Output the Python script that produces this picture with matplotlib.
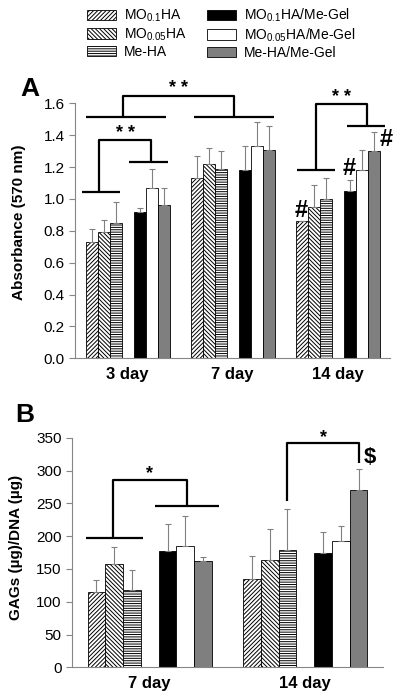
import numpy as np
import matplotlib
matplotlib.use("Agg")
import matplotlib.pyplot as plt
from matplotlib.patches import Patch

plt.rcParams['font.family'] = ['Liberation Sans', 'DejaVu Sans']
plt.rcParams['mathtext.default'] = 'regular'
plt.rcParams['hatch.linewidth'] = 0.7

# series / legend
labels = ['MO$_{0.1}$HA', 'MO$_{0.05}$HA', 'Me-HA',
          'MO$_{0.1}$HA/Me-Gel', 'MO$_{0.05}$HA/Me-Gel', 'Me-HA/Me-Gel']
faces = ['white', 'white', 'white', 'black', 'white', '#7f7f7f']
hatches = ['/' * 8, '\\' * 8, '-' * 7, None, None, None]

# panel A: absorbance (570 nm)
days_a = ['3 day', '7 day', '14 day']
abs_mo01 = [0.73, 1.13, 0.86]
abs_mo005 = [0.79, 1.22, 0.95]
abs_meha = [0.85, 1.19, 1.00]
abs_mo01_gel = [0.92, 1.18, 1.05]
abs_mo005_gel = [1.07, 1.33, 1.18]
abs_meha_gel = [0.96, 1.31, 1.30]
abs_err_mo01 = [0.08, 0.14, 0.0]
abs_err_mo005 = [0.08, 0.10, 0.14]
abs_err_meha = [0.13, 0.11, 0.13]
abs_err_mo01_gel = [0.02, 0.15, 0.07]
abs_err_mo005_gel = [0.12, 0.15, 0.13]
abs_err_meha_gel = [0.11, 0.15, 0.12]

# panel B: GAGs/DNA
days_b = ['7 day', '14 day']
gag_mo01 = [115, 134]
gag_mo005 = [158, 164]
gag_meha = [118, 179]
gag_mo01_gel = [178, 175]
gag_mo005_gel = [185, 193]
gag_meha_gel = [162, 270]
gag_err_mo01 = [18, 35]
gag_err_mo005 = [26, 47]
gag_err_meha = [31, 62]
gag_err_mo01_gel = [41, 31]
gag_err_mo005_gel = [45, 23]
gag_err_meha_gel = [6, 32]

w = 0.8 / 7
offsets = np.array([-3, -2, -1, 1, 2, 3]) * w


def draw_bars(ax, cats, vals, errs):
    x = np.arange(len(cats))
    for i in range(6):
        ax.bar(x + offsets[i], vals[i], w, color=faces[i], hatch=hatches[i],
               edgecolor='black', linewidth=0.6, zorder=2)
        ax.errorbar(x + offsets[i], vals[i], yerr=[np.zeros(len(cats)), errs[i]],
                    fmt='none', ecolor='#808080', elinewidth=0.8, capsize=2,
                    capthick=0.8, zorder=3)
    ax.set_xlim(-0.5, len(cats) - 0.5)
    ax.set_xticks(x)
    ax.set_xticklabels(cats, fontsize=12, fontweight='bold')
    ax.tick_params(axis='x', length=0, pad=6)
    ax.tick_params(axis='y', labelsize=11, color='#868686', length=4)
    for s in ['top', 'right']:
        ax.spines[s].set_visible(False)
    for s in ['left', 'bottom']:
        ax.spines[s].set_color('#868686')


def line(ax, xs, ys):
    ax.plot(xs, ys, color='black', lw=1.6, clip_on=False, zorder=4,
            solid_capstyle='butt')


def bracket(ax, xl, xr, yl, yr, top, txt, ty, fs=13):
    line(ax, [xl, xl, xr, xr], [yl, top, top, yr])
    ax.text((xl + xr) / 2, ty, txt, ha='center', va='center', fontsize=fs,
            fontweight='bold')


fig = plt.figure(figsize=(4, 6.97), dpi=100)
ax1 = fig.add_axes([0.1875, 0.4859, 0.7875, 0.3659])
ax2 = fig.add_axes([0.18, 0.0426, 0.7775, 0.3294])

draw_bars(ax1, days_a,
          [abs_mo01, abs_mo005, abs_meha, abs_mo01_gel, abs_mo005_gel, abs_meha_gel],
          [abs_err_mo01, abs_err_mo005, abs_err_meha, abs_err_mo01_gel,
           abs_err_mo005_gel, abs_err_meha_gel])
ax1.set_ylim(0, 1.6)
ax1.set_yticks(np.arange(0, 1.61, 0.2))
ax1.yaxis.set_major_formatter(plt.FormatStrFormatter('%.1f'))

# panel A significance marks
line(ax1, [-0.433, -0.071], [1.042, 1.042])
line(ax1, [0.014, 0.386], [1.232, 1.232])
bracket(ax1, -0.271, 0.224, 1.042, 1.232, 1.368, '* *', 1.41)
line(ax1, [-0.395, 0.367], [1.516, 1.516])
line(ax1, [0.633, 1.395], [1.516, 1.516])
bracket(ax1, -0.043, 1.014, 1.516, 1.516, 1.646, '* *', 1.69)
line(ax1, [1.614, 1.976], [1.181, 1.181])
line(ax1, [2.09, 2.452], [1.459, 1.459])
bracket(ax1, 1.795, 2.28, 1.181, 1.459, 1.594, '* *', 1.635)
for xh, yh in [(2 + offsets[0], 0.93), (2 + offsets[3], 1.19), (2 + offsets[5] + 0.125, 1.37)]:
    ax1.text(xh, yh, '#', ha='center', va='center', fontsize=17, fontweight='bold')

draw_bars(ax2, days_b,
          [gag_mo01, gag_mo005, gag_meha, gag_mo01_gel, gag_mo005_gel, gag_meha_gel],
          [gag_err_mo01, gag_err_mo005, gag_err_meha, gag_err_mo01_gel,
           gag_err_mo005_gel, gag_err_meha_gel])
ax2.set_ylim(0, 350)
ax2.set_yticks(np.arange(0, 351, 50))

# panel B significance marks
line(ax2, [-0.412, -0.041], [197.6, 197.6])
line(ax2, [0.034, 0.445], [245.9, 245.9])
bracket(ax2, -0.238, 0.238, 197.6, 245.9, 285.5, '*', 295)
bracket(ax2, 1 + offsets[2], 1 + offsets[5], 253.5, 311, 341.5, '*', 350)
ax2.text(1.416, 320, '$', ha='center', va='center', fontsize=16, fontweight='bold')

fig.text(0.0475, 0.6815, 'Absorbance (570 nm)', rotation=90, ha='center', va='center',
         fontsize=11, fontweight='bold')
fig.text(0.04, 0.215, 'GAGs (µg)/DNA (µg)', rotation=90, ha='center', va='center',
         fontsize=11, fontweight='bold')
fig.text(0.05, 0.872, 'A', fontsize=19, fontweight='heavy', ha='left', va='center')
fig.text(0.038, 0.405, 'B', fontsize=19, fontweight='heavy', ha='left', va='center')

handles = [Patch(facecolor=faces[i], hatch=hatches[i], edgecolor='black', linewidth=0.6)
           for i in range(6)]
fig.legend(handles, labels, ncol=2, loc='upper center', bbox_to_anchor=(0.553, 1.0),
           frameon=False, fontsize=10, handlelength=2.1, handleheight=0.75,
           columnspacing=1.4, labelspacing=0.15, handletextpad=0.6, borderaxespad=0.1)

fig.savefig('out.png', dpi=100)
